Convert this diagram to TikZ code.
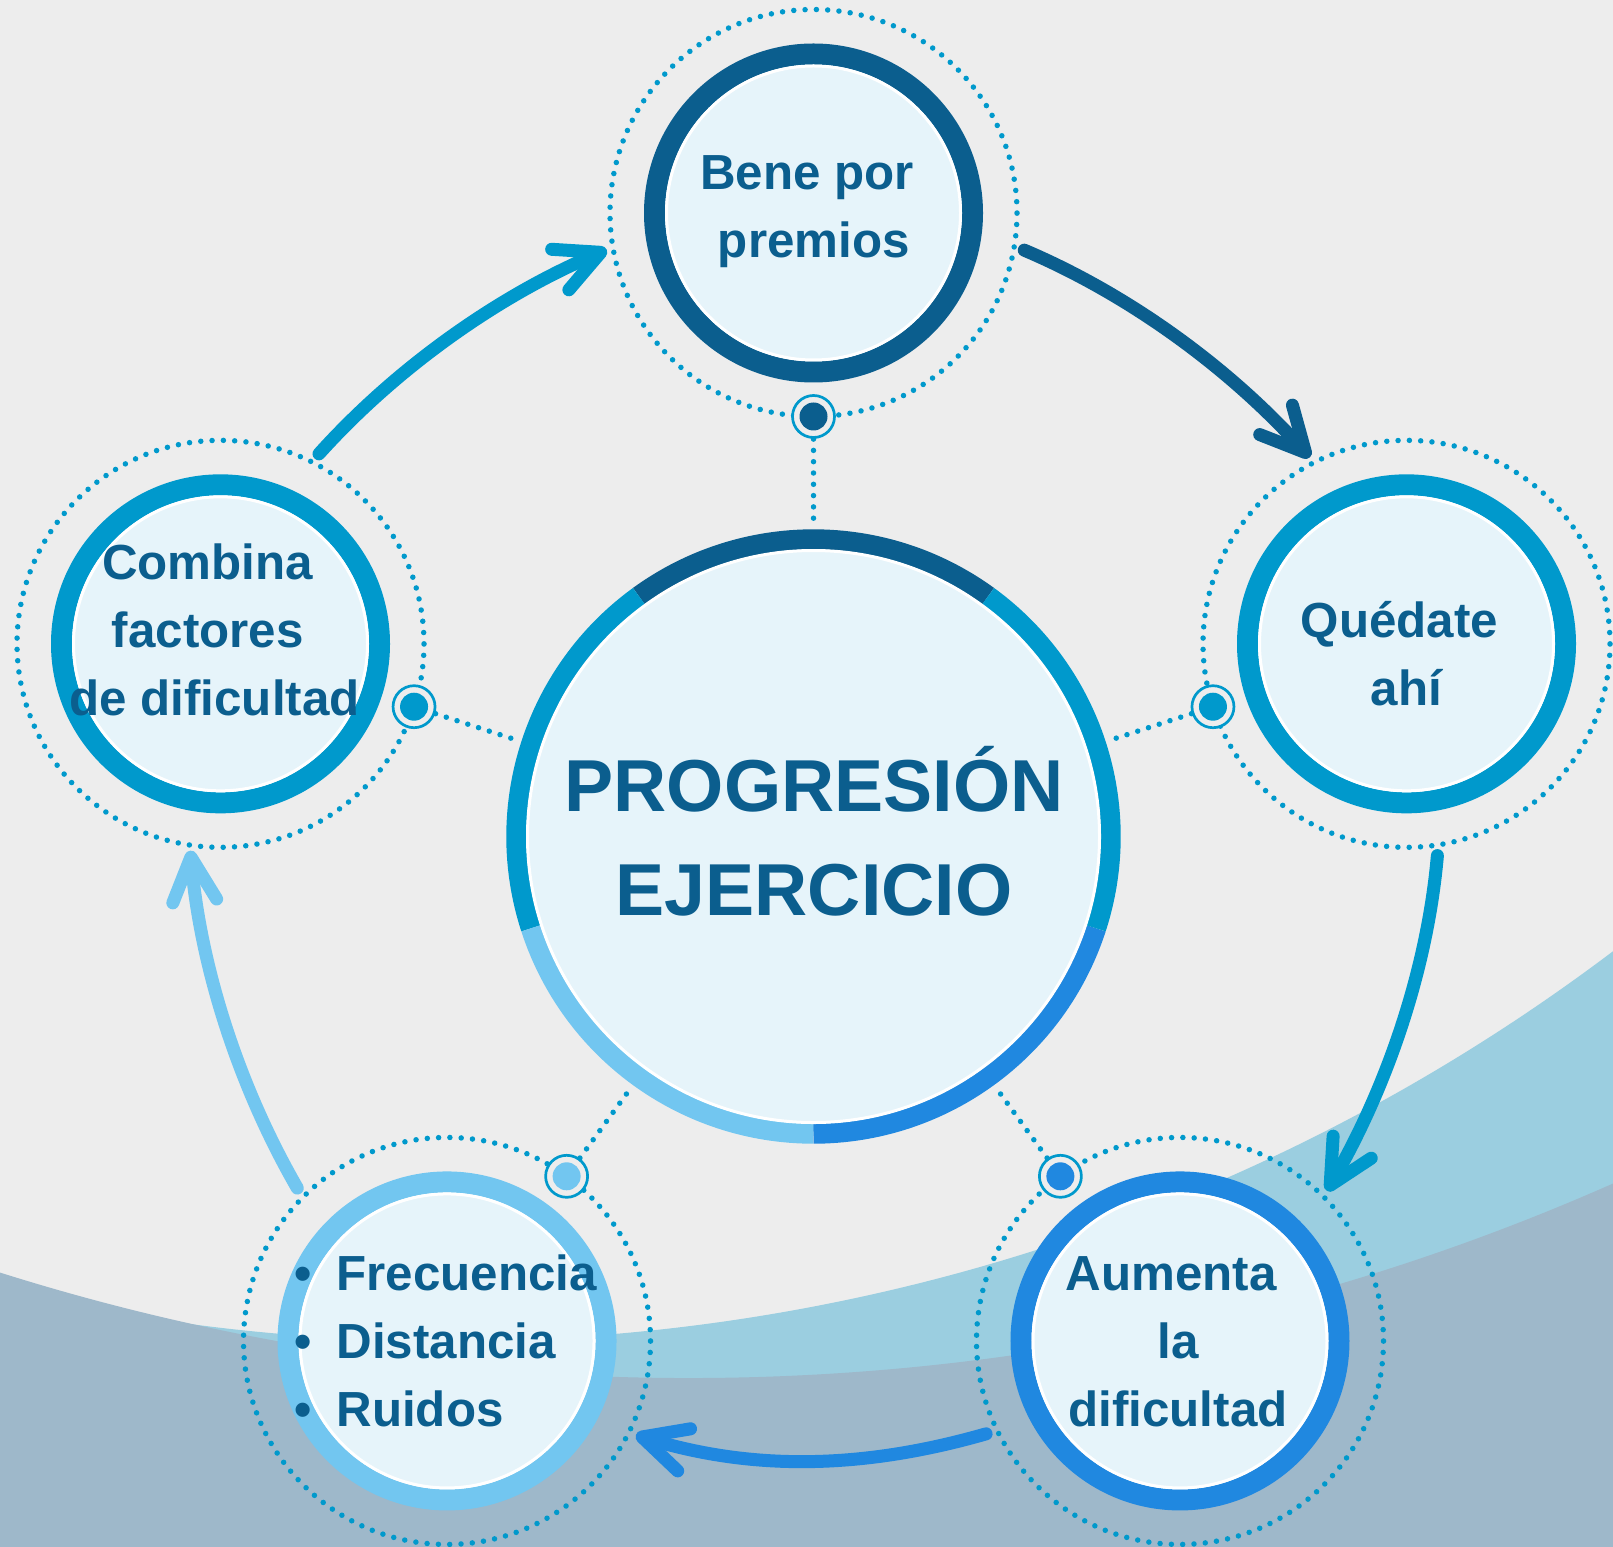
\documentclass[tikz,border=0pt]{standalone}
\usepackage{fontspec}
\setmainfont{Liberation Sans}
\usetikzlibrary{arrows.meta,calc}

\definecolor{bggrey}{HTML}{EDEDED}
\definecolor{bandblue}{HTML}{9BCEE0}
\definecolor{slateblue}{HTML}{9EB8CA}
\definecolor{navy}{HTML}{0B5E8E}
\definecolor{cyanblue}{HTML}{0099CC}
\definecolor{skyblue}{HTML}{72C6F0}
\definecolor{brightblue}{HTML}{2088E0}
\definecolor{paleblue}{HTML}{E6F4FA}

\begin{document}
\begin{tikzpicture}[
  x=1bp, y=-1bp,
  ring/.style={circle, draw=#1, line width=21bp, fill=paleblue,
    minimum size=318bp, inner sep=0pt, outer sep=0pt},
  halo/.style={circle, draw=cyanblue, line width=5.5bp, line cap=round,
    dash pattern=on 0bp off 11.315bp, minimum size=407bp,
    inner sep=0pt, outer sep=0pt},
  hub/.style={circle, draw=cyanblue, line width=2.7bp, fill=bggrey,
    minimum size=42bp, inner sep=0pt, outer sep=0pt},
  dotline/.style={draw=cyanblue, line width=5.5bp, line cap=round,
    dash pattern=on 0bp off 11.3bp},
  flow/.style={draw=#1, line width=13bp, line cap=round,
    -{Straight Barb[round, length=44bp, width=44bp]}},
  circletext/.style={text=navy, font=\bfseries\fontsize{49.3bp}{68bp}\selectfont,
    align=center, inner sep=0pt, anchor=base},
  maintext/.style={text=navy, font=\bfseries\fontsize{73.6bp}{104bp}\selectfont,
    align=center, inner sep=0pt, anchor=base},
]
\useasboundingbox (0,0) rectangle (1613,1547);

% backdrop: grey page with two wide sweeping bands at the bottom
\begin{scope}
  \clip (0,0) rectangle (1613,1547);
  \fill[bggrey] (0,0) rectangle (1613,1547);
  \fill[bandblue, even odd rule] (-20,-20) rectangle (1633,1567)
    (448,-594.3) circle[radius=1935.3bp];
  \fill[slateblue, even odd rule] (-20,-20) rectangle (1633,1567)
    (688.6,-909) circle[radius=2287bp];
\end{scope}

% hub of the cycle and the five stations around it
\node[circle, minimum size=614.4bp, inner sep=0pt, outer sep=0pt] (prog) at (813.5,836.5) {};
\coordinate (bene-c)    at ([shift={(90:623.5bp)}]prog.center);
\coordinate (quedate-c) at ([shift={(18:623.5bp)}]prog.center);
\coordinate (aumenta-c) at ([shift={(-54:623.5bp)}]prog.center);
\coordinate (frec-c)    at ([shift={(234:623.5bp)}]prog.center);
\coordinate (combina-c) at ([shift={(162:623.5bp)}]prog.center);

% dotted halos
\node[halo] (bene-halo)    at (bene-c) {};
\node[halo] (quedate-halo) at (quedate-c) {};
\node[halo] (aumenta-halo) at (aumenta-c) {};
\node[halo] (frec-halo)    at (frec-c) {};
\node[halo] (combina-halo) at (combina-c) {};

% dotted spokes towards the centre
\draw[dotline] (bene-halo.270)    -- (prog);
\draw[dotline] (quedate-halo.198) -- (prog);
\draw[dotline] (aumenta-halo.126) -- (prog);
\draw[dotline] (frec-halo.54)     -- (prog);
\draw[dotline] (combina-halo.342) -- (prog);

% cycle arrows
\draw[flow=cyanblue] ([shift={(62.6:214bp)}]combina-c)
  .. controls +(48:117bp) and +(203:117bp) .. ([shift={(190.1:210bp)}]bene-c);
\draw[flow=navy] ([shift={(-10:214bp)}]bene-c)
  .. controls +(-23:117bp) and +(132:117bp) .. ([shift={(117.4:210bp)}]quedate-c);
\draw[flow=cyanblue] ([shift={(-81.7:214bp)}]quedate-c)
  .. controls +(265:117bp) and +(60:117bp) .. ([shift={(45.6:210bp)}]aumenta-c);
\draw[flow=brightblue] ([shift={(205.6:215bp)}]aumenta-c)
  .. controls +(196:125bp) and +(-17:125bp) .. ([shift={(-26.5:211bp)}]frec-c);
\draw[flow=skyblue] ([shift={(134.4:214bp)}]frec-c)
  .. controls +(120:117bp) and +(275:117bp) .. ([shift={(261.7:209bp)}]combina-c);

% station rings
\node[ring=navy]       (bene)    at (bene-c) {};
\node[ring=cyanblue]   (quedate) at (quedate-c) {};
\node[ring=brightblue] (aumenta) at (aumenta-c) {};
\node[ring=skyblue]    (frec)    at (frec-c) {};
\node[ring=cyanblue]   (combina) at (combina-c) {};
\foreach \n in {bene, quedate, aumenta, frec, combina}
  \draw[white, line width=3bp] (\n.center) circle[radius=147bp];

% small hubs where the spokes leave the halos
\node[hub] (bene-hub)    at (bene-halo.270) {};
\node[hub] (quedate-hub) at (quedate-halo.198) {};
\node[hub] (aumenta-hub) at (aumenta-halo.126) {};
\node[hub] (frec-hub)    at (frec-halo.54) {};
\node[hub] (combina-hub) at (combina-halo.342) {};
\fill[navy]       (bene-hub)    circle[radius=14bp];
\fill[cyanblue]   (quedate-hub) circle[radius=14bp];
\fill[brightblue] (aumenta-hub) circle[radius=14bp];
\fill[skyblue]    (frec-hub)    circle[radius=14bp];
\fill[cyanblue]   (combina-hub) circle[radius=14bp];

% central disc with its five coloured arcs
\fill[paleblue] (prog.center) circle[radius=288bp];
\foreach \a/\col in {54/navy, 126/cyanblue, 198/skyblue, 270/brightblue, 342/cyanblue}
  \draw[\col, line width=20bp] ([shift={(\a:297.2bp)}]prog.center)
    arc[start angle=\a, delta angle=72, radius=297.2bp];
\draw[white, line width=3bp] (prog.center) circle[radius=286bp];

% texts (each node sits on the baseline of its last line)
\node[maintext] (prog-text) at (814,915) {PROGRESIÓN\\EJERCICIO};
\node[circletext] (bene-text)    at (813.8,257.7) {Bene por\kern13.6bp\\premios};
\node[circletext] (quedate-text) at (1406.3,705.7) {Quédate\kern13.6bp\\ahí};
\node[circletext] (combina-text) at (214.5,715) {Combina\kern13.6bp\\factores\kern13.6bp\\de dificultad};
\node[circletext] (aumenta-text) at (1178,1426.7) {Aumenta\kern13.6bp\\la\\dificultad};
\node[circletext, anchor=base west, align=left] (frec-text) at (294,1426.7)
  {\makebox[42.4bp][l]{•}Frecuencia\\\makebox[42.4bp][l]{•}Distancia\\\makebox[42.4bp][l]{•}Ruidos};
\end{tikzpicture}
\end{document}
